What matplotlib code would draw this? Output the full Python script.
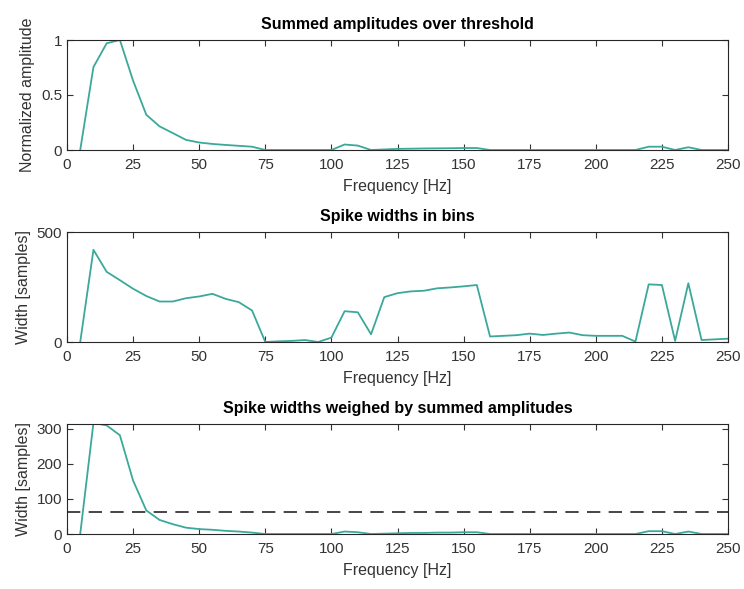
import matplotlib.pyplot as plt
import numpy as np

plt.rcParams['font.family'] = ['Liberation Sans', 'DejaVu Sans']

freqs = list(range(5, 255, 5))

amps = [0, 0.754, 0.97, 1.0, 0.63, 0.32, 0.215, 0.154, 0.092, 0.068,
        0.055, 0.046, 0.038, 0.03, 0, 0, 0, 0, 0, 0,
        0.05, 0.04, 0, 0.005, 0.01, 0.012, 0.014, 0.015, 0.016, 0.018,
        0.018, 0, 0, 0, 0, 0, 0, 0, 0, 0,
        0, 0, 0, 0.03, 0.03, 0, 0.025, 0, 0, 0]

widths = [0, 419, 319, 281, 242, 209, 184, 184, 199, 207,
          219, 196, 181, 143, 0, 3, 5, 9, 0, 20,
          140, 135, 35, 204, 222, 230, 233, 244, 248, 253,
          259, 25, 28, 31, 38, 32, 38, 43, 31, 28,
          28, 28, 2, 262, 259, 5, 267, 9, 12, 15]

weighted = [0, 316, 309, 281, 152, 67, 40, 28, 18, 14,
            12, 9, 7, 4, 0, 0, 0, 0, 0, 0,
            7, 5, 0, 1, 2, 3, 3, 4, 4, 5,
            5, 0, 0, 0, 0, 0, 0, 0, 0, 0,
            0, 0, 0, 8, 8, 0, 7, 0, 0, 0]

threshold = 62

col = '#3aa99a'
txt = '#333333'
W, H = 744, 589
fig = plt.figure(figsize=(W / 100, H / 100), dpi=100)

def make_ax(top, bottom):
    return fig.add_axes([67 / W, 1 - bottom / H, (728 - 67) / W, (bottom - top) / H])

def style(ax):
    ax.set_xlim(0, 250)
    ax.set_xticks(range(0, 251, 25))
    ax.tick_params(direction='in', top=True, right=True, labelsize=11,
                   colors=txt, length=4, width=0.8)
    ax.tick_params(axis='x', pad=6)
    for s in ax.spines.values():
        s.set_color('#262626')
        s.set_linewidth(0.8)
    ax.set_xlabel('Frequency [Hz]', fontsize=11.5, color=txt, labelpad=5)

ax1 = make_ax(40, 150)
ax1.plot(freqs, amps, color=col, lw=1.3)
ax1.set_ylim(0, 1)
ax1.set_yticks([0, 0.5, 1])
ax1.set_yticklabels(['0', '0.5', '1'])
style(ax1)
ax1.set_ylabel('Normalized amplitude', fontsize=11.5, color=txt)
ax1.set_title('Summed amplitudes over threshold', fontsize=11.5, fontweight='bold', pad=8)

ax2 = make_ax(232, 342)
ax2.plot(freqs, widths, color=col, lw=1.3)
ax2.set_ylim(0, 500)
ax2.set_yticks([0, 500])
style(ax2)
ax2.set_ylabel('Width [samples]', fontsize=11.5, color=txt)
ax2.set_title('Spike widths in bins', fontsize=11.5, fontweight='bold', pad=8)

ax3 = make_ax(424, 534)
ax3.plot(freqs, weighted, color=col, lw=1.3)
ax3.axhline(threshold, color='#262626', ls=(0, (8, 5)), lw=1.2)
ax3.set_ylim(0, 313)
ax3.set_yticks([0, 100, 200, 300])
style(ax3)
ax3.set_ylabel('Width [samples]', fontsize=11.5, color=txt)
ax3.set_title('Spike widths weighed by summed amplitudes', fontsize=11.5, fontweight='bold', pad=8)

fig.savefig('out.png', dpi=100, facecolor='white')
